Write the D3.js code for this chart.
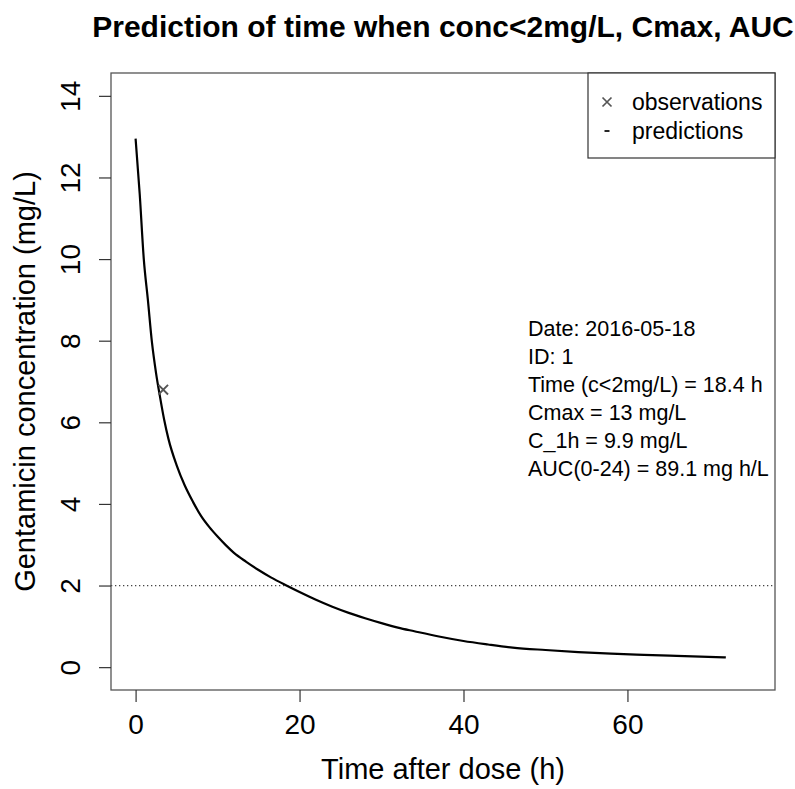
<!DOCTYPE html>
<html>
<head>
<meta charset="utf-8">
<script src="https://cdn.jsdelivr.net/npm/d3@7"></script>
<style>
  body { margin: 0; background: #fff; }
  svg text { font-family: "Liberation Sans", Arial, sans-serif; }
</style>
</head>
<body>
<div class="chart"></div>
<script>
// predicted concentration curve (h, mg/L)
var predTime = [0, 0.5, 1, 1.5, 2, 2.5, 3, 3.5, 4, 5, 6, 7, 8, 9, 10, 11, 12, 13.5, 15, 16.5, 18.4, 20, 22, 24, 26, 28, 30, 32, 34, 37, 40, 43, 46, 50, 54, 58, 62, 66, 72];
var predConc = [12.95, 11.6, 10.0, 9.0, 7.95, 7.2, 6.6, 6.05, 5.6, 4.95, 4.45, 4.05, 3.7, 3.43, 3.2, 2.99, 2.8, 2.58, 2.38, 2.2, 2.0, 1.84, 1.65, 1.48, 1.33, 1.2, 1.08, 0.97, 0.88, 0.75, 0.64, 0.555, 0.48, 0.42, 0.37, 0.33, 0.30, 0.275, 0.24];
// observed sample
var obsTime = [3.25];
var obsConc = [6.8];
var threshold = 2;
var xTicks = [0, 20, 40, 60];
var yTicks = [0, 2, 4, 6, 8, 10, 12, 14];
var legendItems = [{sym: "x", label: "observations"}, {sym: "-", label: "predictions"}];
var infoLines = ["Date: 2016-05-18", "ID: 1", "Time (c<2mg/L) = 18.4 h", "Cmax = 13 mg/L", "C_1h = 9.9 mg/L", "AUC(0-24) = 89.1 mg h/L"];

var width = 795, height = 789;
var plotLeft = 111, plotRight = 775, plotTop = 73, plotBottom = 690;

var x = d3.scaleLinear().domain([-3, 78]).range([plotLeft, plotRight]);
var y = d3.scaleLinear().domain([-0.56, 14.56]).range([plotBottom, plotTop]);

var svg = d3.select(".chart").append("svg")
        .attr("width", width)
        .attr("height", height);

// threshold line
svg.append("line")
        .attr("x1", plotLeft).attr("x2", plotRight)
        .attr("y1", y(threshold)).attr("y2", y(threshold))
        .attr("stroke", "#444")
        .attr("stroke-width", 1.2)
        .attr("stroke-dasharray", "1.3,2.7");

// prediction curve
var pred = predTime.map((t, i) => [t, predConc[i]]);
svg.append("path")
        .datum(pred)
        .attr("fill", "none")
        .attr("stroke", "#000")
        .attr("stroke-width", 2.2)
        .attr("d", d3.line().x(d => x(d[0])).y(d => y(d[1])).curve(d3.curveMonotoneX));

// observations as crosses
var cross = function (cx, cy, r) {
    return "M" + (cx - r) + "," + (cy - r) + "L" + (cx + r) + "," + (cy + r) +
           "M" + (cx - r) + "," + (cy + r) + "L" + (cx + r) + "," + (cy - r);
};
svg.selectAll(".obs")
        .data(obsTime)
        .enter().append("path")
        .attr("d", (d, i) => cross(x(d) + 1, y(obsConc[i]), 4.8))
        .attr("stroke", "#555")
        .attr("stroke-width", 1.9)
        .attr("fill", "none");

// box
svg.append("rect")
        .attr("x", plotLeft).attr("y", plotTop)
        .attr("width", plotRight - plotLeft).attr("height", plotBottom - plotTop)
        .attr("fill", "none")
        .attr("stroke", "#555")
        .attr("stroke-width", 1.3);

// x axis
var xAxis = svg.append("g")
        .attr("transform", "translate(0," + plotBottom + ")")
        .call(d3.axisBottom(x).tickValues(xTicks).tickSize(12).tickPadding(8));
xAxis.select(".domain").remove();
xAxis.selectAll("line").attr("stroke", "#333").attr("stroke-width", 1.2);
xAxis.selectAll("text")
        .attr("font-size", 28)
        .attr("fill", "#000")
        .attr("font-family", "Liberation Sans, Arial, sans-serif")
        .attr("dy", null)
        .attr("y", 44);

// y axis
var yAxis = svg.append("g")
        .attr("transform", "translate(" + plotLeft + ",0)")
        .call(d3.axisLeft(y).tickValues(yTicks).tickSize(12));
yAxis.select(".domain").remove();
yAxis.selectAll("line").attr("stroke", "#333").attr("stroke-width", 1.2);
yAxis.selectAll("text")
        .attr("font-size", 28)
        .attr("fill", "#000")
        .attr("font-family", "Liberation Sans, Arial, sans-serif")
        .attr("x", null).attr("dy", null)
        .attr("text-anchor", "middle")
        .attr("transform", "translate(-31,0) rotate(-90)");

// titles
svg.append("text")
        .attr("x", (plotLeft + plotRight) / 2).attr("y", 37)
        .attr("text-anchor", "middle")
        .attr("font-size", 30)
        .attr("font-weight", "bold")
        .text("Prediction of time when conc<2mg/L, Cmax, AUC");

svg.append("text")
        .attr("x", (plotLeft + plotRight) / 2).attr("y", 779)
        .attr("text-anchor", "middle")
        .attr("font-size", 29)
        .text("Time after dose (h)");

svg.append("text")
        .attr("transform", "translate(35," + (plotTop + plotBottom) / 2 + ") rotate(-90)")
        .attr("text-anchor", "middle")
        .attr("font-size", 29)
        .text("Gentamicin concentration (mg/L)");

// legend
var legend = svg.append("g");
legend.append("rect")
        .attr("x", 588).attr("y", plotTop)
        .attr("width", plotRight - 588).attr("height", 85)
        .attr("fill", "#fff")
        .attr("stroke", "#333")
        .attr("stroke-width", 1.2);
var rows = legend.selectAll(".row")
        .data(legendItems)
        .enter().append("g")
        .attr("transform", (d, i) => "translate(0," + (102 + i * 29) + ")");
rows.append("path")
        .attr("d", d => d.sym === "x" ? cross(607, 0, 4.5) : "M604.5,0H609.5")
        .attr("stroke", d => d.sym === "x" ? "#555" : "#000")
        .attr("stroke-width", 1.7)
        .attr("fill", "none");
rows.append("text")
        .attr("x", 632).attr("y", 8)
        .attr("font-size", 23)
        .text(d => d.label);

// summary text
svg.selectAll(".info")
        .data(infoLines)
        .enter().append("text")
        .attr("x", 528)
        .attr("y", (d, i) => 336 + i * 28)
        .attr("font-size", 21.5)
        .text(d => d);
</script>
</body>
</html>
